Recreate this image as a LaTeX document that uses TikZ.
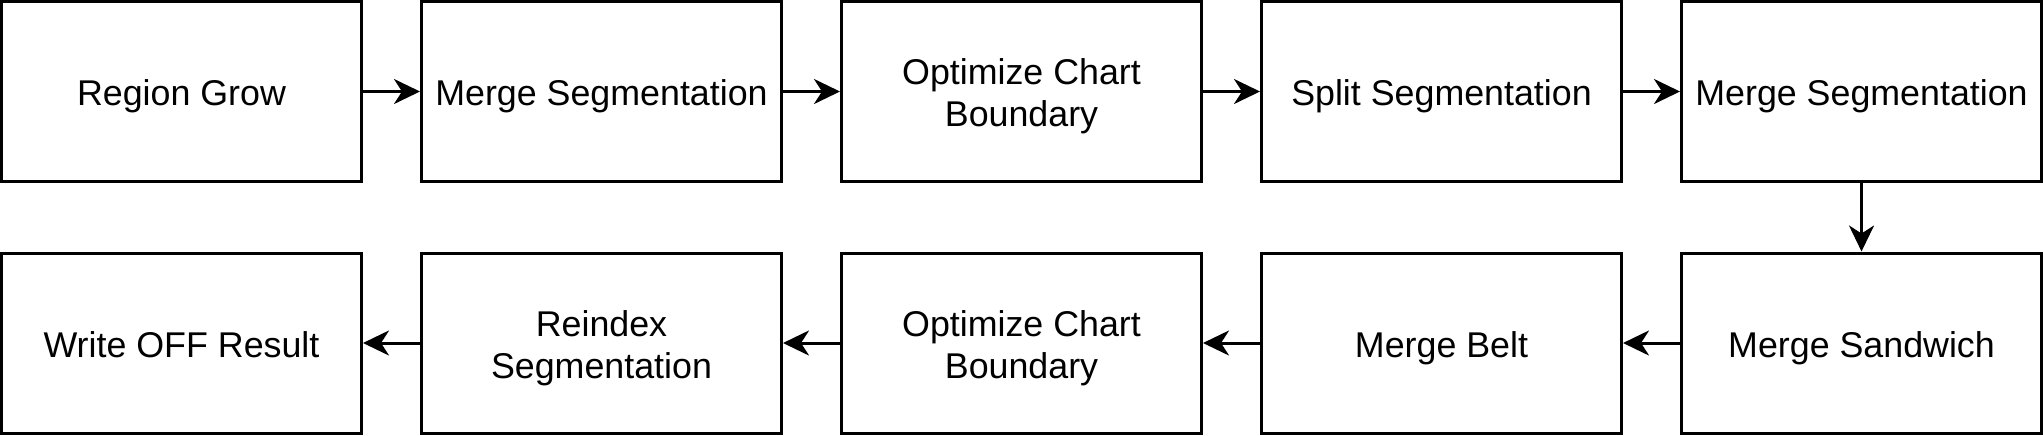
\documentclass[tikz,border=0pt]{standalone}
\usepackage{fontspec}
\setmainfont{Liberation Sans}
\usetikzlibrary{arrows.meta, positioning}

\begin{document}
\begin{tikzpicture}[x=1pt,y=1pt,
  stage/.style={rectangle, draw, line width=1.5pt, minimum width=180pt, minimum height=90pt, align=center, text height=14pt, text depth=0pt, font=\fontsize{17.9}{20.8}\selectfont},
  twoline/.style={text height=35pt},
  flow/.style={-{Stealth[length=13pt,width=12.5pt,inset=4pt]}, line width=1.5pt}]
\useasboundingbox (0,0) rectangle (1021.5,-217.5);
%nodes
\node[stage] (a) at (90.75, -45.75) {Region Grow};
\node[stage] (b) at (300.75, -45.75) {Merge Segmentation};
\node[stage, twoline] (c) at (510.75, -45.75) {Optimize Chart\\Boundary};
\node[stage] (d) at (720.75, -45.75) {Split Segmentation};
\node[stage] (e) at (930.75, -45.75) {Merge Segmentation};
\node[stage] (f) at (930.75, -171.5) {Merge Sandwich};
\node[stage] (g) at (720.75, -171.5) {Merge Belt};
\node[stage, twoline] (h) at (510.75, -171.5) {Optimize Chart\\Boundary};
\node[stage, twoline] (i) at (300.75, -171.5) {Reindex\\Segmentation};
\node[stage] (j) at (90.75, -171.5) {Write OFF Result};

%connections
\draw[flow] (a) -- (b);
\draw[flow] (b) -- (c);
\draw[flow] (c) -- (d);
\draw[flow] (d) -- (e);
\draw[flow] (e) -- (f);
\draw[flow] (f) -- (g);
\draw[flow] (g) -- (h);
\draw[flow] (h) -- (i);
\draw[flow] (i) -- (j);
\end{tikzpicture}
\end{document}
